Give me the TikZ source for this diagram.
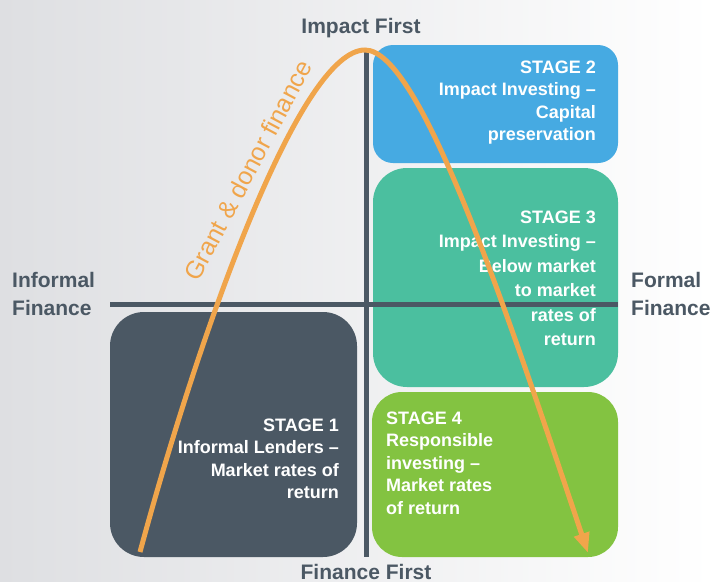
\documentclass[tikz,border=0pt]{standalone}
\usepackage{fontspec}
\setmainfont{Liberation Sans}
\usetikzlibrary{arrows.meta}
\definecolor{axisgrey}{RGB}{75,88,100}
\definecolor{curveorange}{RGB}{240,165,75}
\definecolor{stageblue}{RGB}{70,170,226}
\definecolor{stageteal}{RGB}{75,191,159}
\definecolor{stagegreen}{RGB}{131,195,65}
\definecolor{bgleft}{RGB}{222,223,226}
\tikzset{
  stagebox/.style={rectangle, inner sep=0pt, outer sep=0pt},
  stagetext/.style={text=white, inner sep=0pt, font=\fontsize{18}{22.5}\selectfont\bfseries},
  axislabel/.style={text=axisgrey, inner sep=0pt, font=\fontsize{21}{28}\selectfont\bfseries},
  axisline/.style={draw=axisgrey, line width=5pt}
}
\begin{document}
\begin{tikzpicture}[x=1pt,y=-1pt]
		\shade[left color=bgleft, right color=white] (0,0) rectangle (712,581);
		\useasboundingbox (0,0) rectangle (712,581);
		\node (s1) [stagebox, fill=axisgrey, rounded corners=34pt, minimum width=247pt, minimum height=245pt] at (233.5,434.5) {};
		\node (s2) [stagebox, fill=stageblue, rounded corners=20pt, minimum width=245pt, minimum height=118pt] at (495.5,104) {};
		\node (s3) [stagebox, fill=stageteal, rounded corners=34pt, minimum width=245pt, minimum height=219pt] at (495.5,277.5) {};
		\node (s4) [stagebox, fill=stagegreen, rounded corners=30pt, minimum width=246pt, minimum height=165pt] at (495,474.5) {};
		\coordinate (top) at (366,50);
		\coordinate (bottom) at (366,557);
		\coordinate (left) at (110,304.5);
		\coordinate (right) at (618,304.5);
		\draw [axisline] (top) -- (bottom);
		\draw [axisline] (left) -- (right);
		\node (t1) [stagetext, align=right, anchor=north east] at (339,418.5) {STAGE 1\\Informal Lenders –\\Market rates of\\return};
		\node (t2) [stagetext, align=right, anchor=north east] at (596,60.5) {STAGE 2\\Impact Investing –\\Capital\\preservation};
		\node (t3) [stagetext, align=right, anchor=north east, font=\fontsize{18}{24.5}\selectfont\bfseries] at (596,210.5) {STAGE 3\\Impact Investing –\\Below market\\to market\\rates of\\return};
		\node (t4) [stagetext, align=left, anchor=north west] at (386,411.5) {STAGE 4\\Responsible\\investing –\\Market rates\\of return};
		\node (impact) [axislabel, anchor=base] at (361,33) {Impact First};
		\node (finfirst) [axislabel] at (366,572) {Finance First};
		\node (informal) [axislabel, align=left, anchor=north west] at (12,272) {Informal\\Finance};
		\node (formal) [axislabel, align=left, anchor=north west] at (631,272) {Formal\\Finance};
		\coordinate (c0) at (140,552);
		\coordinate (peak) at (365,50);
		\coordinate (c1) at (588,553);
		\draw [curveorange, line width=5pt, -{Triangle[length=20pt,width=15pt]}] (c0) .. controls (200,330) and (300,50) .. (peak) .. controls (420,50) and (504,303) .. (c1);
		\node (grant) [text=curveorange, inner sep=0pt, rotate=62, font=\fontsize{25}{30}\selectfont] at (248,170) {Grant \& donor finance};
\end{tikzpicture}
\end{document}
